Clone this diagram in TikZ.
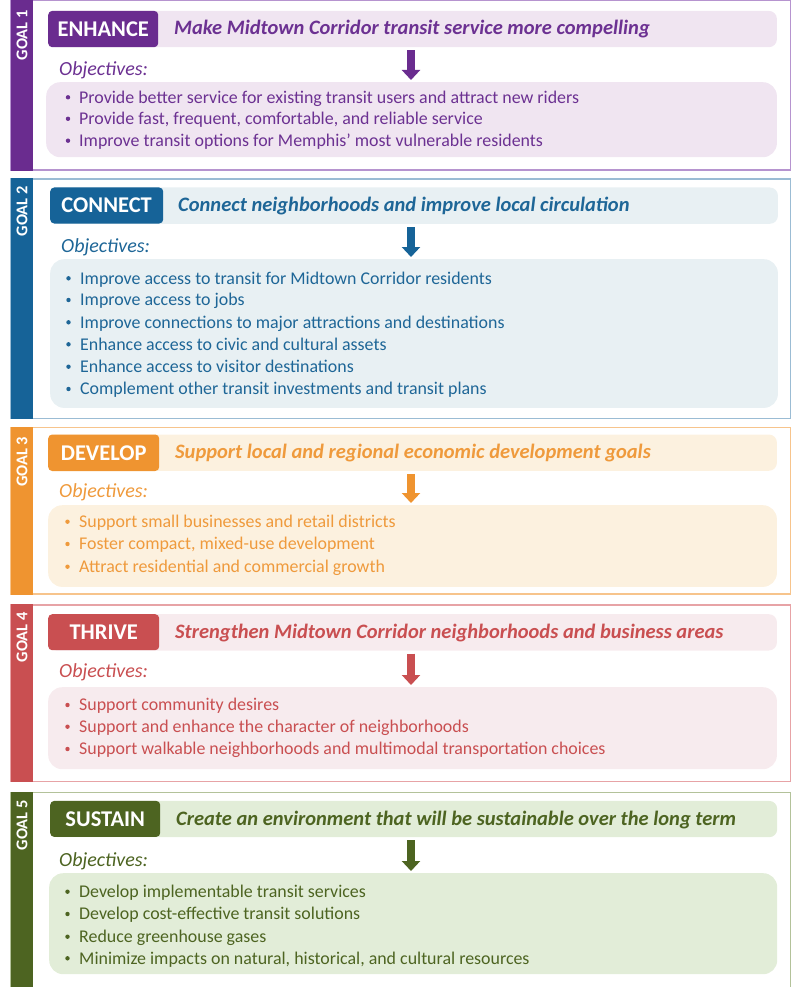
\documentclass[tikz,border=0pt]{standalone}
\usepackage{fontspec}
\setmainfont{Carlito}
\usetikzlibrary{arrows.meta}
% purple
\definecolor{pD}{HTML}{6A2C8F}\definecolor{pT}{HTML}{6C3192}\definecolor{pL}{HTML}{F0E5F1}\definecolor{pF}{HTML}{B694CF}
% blue
\definecolor{bD}{HTML}{166398}\definecolor{bT}{HTML}{1E6697}\definecolor{bL}{HTML}{E8F0F3}\definecolor{bF}{HTML}{9BBCD4}
% orange
\definecolor{oD}{HTML}{EF9430}\definecolor{oT}{HTML}{EF9A3C}\definecolor{oL}{HTML}{FCF1DF}\definecolor{oF}{HTML}{F7C48C}
% red
\definecolor{rD}{HTML}{C94F51}\definecolor{rT}{HTML}{C94F51}\definecolor{rL}{HTML}{F7EBEE}\definecolor{rF}{HTML}{E7A3A6}
% green
\definecolor{gD}{HTML}{4D6421}\definecolor{gT}{HTML}{4D6421}\definecolor{gL}{HTML}{E2EDD8}\definecolor{gF}{HTML}{B3C29A}
\begin{document}
\begin{tikzpicture}[x=1pt,y=-1pt,
  frame/.style={draw=#1, line width=1.4pt},
  hdr/.style={fill=#1, rounded corners=8pt, anchor=north west, inner sep=0pt, minimum height=36.3pt},
  lab/.style={fill=#1, rounded corners=4pt, text=white, font=\fontsize{22.5}{26}\selectfont\bfseries, inner sep=0pt},
  htext/.style={text=#1, font=\fontsize{20.5}{24}\selectfont\bfseries\itshape, anchor=base west, inner sep=0pt},
  objl/.style={text=#1, font=\fontsize{20}{24}\selectfont\itshape, anchor=base west, inner sep=0pt},
  objbox/.style={fill=#1, rounded corners=14pt, anchor=north west, inner sep=0pt},
  item/.style={text=#1, font=\fontsize{17.9}{21}\selectfont, anchor=base west, inner sep=0pt},
  dot/.style={circle, fill=#1, inner sep=0pt, minimum size=4.4pt},
  goalt/.style={text=white, font=\fontsize{16.4}{19}\selectfont\bfseries, rotate=90, anchor=east, inner sep=0pt},
  bigarrow/.style={draw=#1, line width=8pt, shorten <=3pt, shorten >=2pt, -{Triangle[width=18pt,length=10pt]}}
]
\useasboundingbox (0,0) rectangle (792,987);
\coordinate (ax) at (411,0);

% ---------------- GOAL 1 ----------------
\draw[frame=pF] (11,0.7) rectangle (790.5,170);
\fill[pD] (11,0) rectangle (33,170.7);
\node[goalt] (g1) at (22,10) {GOAL 1};
\node[hdr=pL, minimum width=728.7pt] (h1) at (48,10.7) {};
\node[lab=pD, minimum width=110pt, minimum height=36.3pt, anchor=north west] (l1) at (48,10.7) {};
\node[lab=pD, fill=none] (l1t) at (l1.center) {ENHANCE};
\node[htext=pT] (t1) at (174,34.5) {Make Midtown Corridor transit service more compelling};
\node[objl=pT] (o1) at (59,75.5) {Objectives:};
\node[objbox=pL, minimum width=730.7pt, minimum height=75pt] (b1) at (46,82) {};
\draw[bigarrow=pD] (h1.south -| ax) -- (b1.north -| ax);
\foreach \y/\t [count=\i] in {97.3/{Provide better service for existing transit users and attract new riders},
  118.8/{Provide fast, frequent, comfortable, and reliable service},
  140.7/{Improve transit options for Memphis’ most vulnerable residents}}{
  \node[dot=pT] (d1\i) at (68,\y) {};
  \node[item=pT] (i1\i) at (79,\y+5.8) {\t};
}

% ---------------- GOAL 2 ----------------
\draw[frame=bF] (11,179) rectangle (790.5,418.3);
\fill[bD] (11,178.3) rectangle (33,419);
\node[goalt] (g2) at (22,186) {GOAL 2};
\node[hdr=bL, minimum width=727.7pt] (h2) at (50,187.3) {};
\node[lab=bD, minimum width=113pt, minimum height=36pt, anchor=north west] (l2) at (50,187.3) {};
\node[lab=bD, fill=none] (l2t) at (l2.center) {CONNECT};
\node[htext=bT] (t2) at (178,211.7) {Connect neighborhoods and improve local circulation};
\node[objl=bT] (o2) at (61,252.2) {Objectives:};
\node[objbox=bL, minimum width=727.7pt, minimum height=148.7pt] (b2) at (50,259) {};
\draw[bigarrow=bD] (h2.south -| ax) -- (b2.north -| ax);
\foreach \y/\t [count=\i] in {278.3/{Improve access to transit for Midtown Corridor residents},
  300/{Improve access to jobs},
  322.3/{Improve connections to major attractions and destinations},
  344.3/{Enhance access to civic and cultural assets},
  366.7/{Enhance access to visitor destinations},
  389/{Complement other transit investments and transit plans}}{
  \node[dot=bT] (d2\i) at (68.5,\y) {};
  \node[item=bT] (i2\i) at (80,\y+5.8) {\t};
}

% ---------------- GOAL 3 ----------------
\draw[frame=oF] (11,427.3) rectangle (790.5,594);
\fill[oD] (11,426.6) rectangle (33,594.7);
\node[goalt] (g3) at (22,436.5) {GOAL 3};
\node[hdr=oL, minimum width=728.7pt] (h3) at (48,434.3) {};
\node[lab=oD, minimum width=111pt, minimum height=36.5pt, anchor=north west] (l3) at (48,434.3) {};
\node[lab=oD, fill=none] (l3t) at (l3.center) {DEVELOP};
\node[htext=oT] (t3) at (175,458.5) {Support local and regional economic development goals};
\node[objl=oT] (o3) at (59,497) {Objectives:};
\node[objbox=oL, minimum width=728.7pt, minimum height=81.7pt] (b3) at (48,505) {};
\draw[bigarrow=oD] (h3.south -| ax) -- (b3.north -| ax);
\foreach \y/\t [count=\i] in {521.7/{Support small businesses and retail districts},
  544/{Foster compact, mixed-use development},
  566.7/{Attract residential and commercial growth}}{
  \node[dot=oT] (d3\i) at (67.5,\y) {};
  \node[item=oT] (i3\i) at (79,\y+5.8) {\t};
}

% ---------------- GOAL 4 ----------------
\draw[frame=rF] (11,605) rectangle (790.5,781.7);
\fill[rD] (11,604.3) rectangle (33,782.4);
\node[goalt] (g4) at (22,612) {GOAL 4};
\node[hdr=rL, minimum width=728.7pt] (h4) at (48,614) {};
\node[lab=rD, minimum width=111pt, minimum height=36pt, anchor=north west] (l4) at (48,614) {};
\node[lab=rD, fill=none] (l4t) at (l4.center) {THRIVE};
\node[htext=rT] (t4) at (175,638.5) {Strengthen Midtown Corridor neighborhoods and business areas};
\node[objl=rT] (o4) at (59,677.8) {Objectives:};
\node[objbox=rL, minimum width=728.7pt, minimum height=82pt] (b4) at (48,687) {};
\draw[bigarrow=rD] (h4.south -| ax) -- (b4.north -| ax);
\foreach \y/\t [count=\i] in {705/{Support community desires},
  726.7/{Support and enhance the character of neighborhoods},
  749/{Support walkable neighborhoods and multimodal transportation choices}}{
  \node[dot=rT] (d4\i) at (67.5,\y) {};
  \node[item=rT] (i4\i) at (79,\y+5.8) {\t};
}

% ---------------- GOAL 5 ----------------
\draw[frame=gF] (11,1000) -- (11,792.7) -- (790.5,792.7) -- (790.5,1000);
\fill[gD] (11,792) rectangle (33,1000);
\node[goalt] (g5) at (22,800) {GOAL 5};
\node[hdr=gL, minimum width=727pt] (h5) at (50,800.7) {};
\node[lab=gD, minimum width=110pt, minimum height=36pt, anchor=north west] (l5) at (50,800.7) {};
\node[lab=gD, fill=none] (l5t) at (l5.center) {SUSTAIN};
\node[htext=gT] (t5) at (176,825) {Create an environment that will be sustainable over the long term};
\node[objl=gT] (o5) at (59,866.5) {Objectives:};
\node[objbox=gL, minimum width=728pt, minimum height=101pt] (b5) at (49,873) {};
\draw[bigarrow=gD] (h5.south -| ax) -- (b5.north -| ax);
\foreach \y/\t [count=\i] in {891.7/{Develop implementable transit services},
  914/{Develop cost-effective transit solutions},
  936.7/{Reduce greenhouse gases},
  958.3/{Minimize impacts on natural, historical, and cultural resources}}{
  \node[dot=gT] (d5\i) at (67.5,\y) {};
  \node[item=gT] (i5\i) at (79,\y+5.8) {\t};
}
\end{tikzpicture}
\end{document}
